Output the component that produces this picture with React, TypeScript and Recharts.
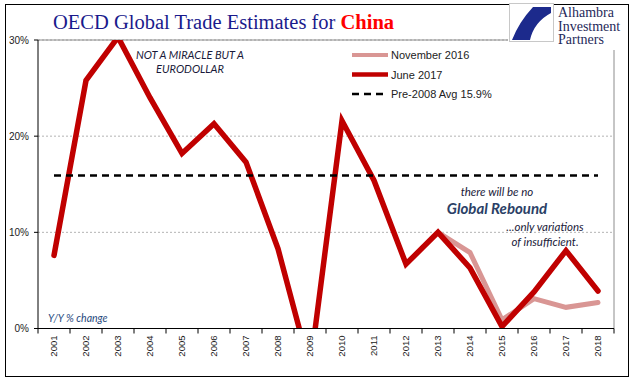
import { CartesianGrid, Legend, Line, LineChart, ReferenceLine, XAxis, YAxis } from "recharts";

const years = ["2001", "2002", "2003", "2004", "2005", "2006", "2007", "2008", "2009", "2010", "2011", "2012", "2013", "2014", "2015", "2016", "2017", "2018"];
const june2017 = [7.6, 25.8, 30.3, 24.0, 18.2, 21.3, 17.3, 8.3, -4.2, 21.6, 15.4, 6.7, 10.0, 6.3, 0.2, 3.8, 8.1, 3.9];
const nov2016 = [null, null, null, null, null, null, null, null, null, null, null, null, 10.0, 7.9, 0.9, 3.1, 2.2, 2.7];
const pre2008Avg = 15.9;
const yTicks = [0, 10, 20, 30];

const data = years.map((year, i) => ({ year, nov: nov2016[i], june: june2017[i], avg: pre2008Avg }));

const legendOrder = ["nov", "june", "avg"];
const legendStyle: Record<string, { width: number; dash?: string }> = {
  nov: { width: 4 },
  june: { width: 4.5 },
  avg: { width: 2.5, dash: "7 5" },
};

function LegendBox({ payload }: any) {
  const items = [...(payload || [])].sort(
    (a: any, b: any) => legendOrder.indexOf(a.dataKey) - legendOrder.indexOf(b.dataKey)
  );
  return (
    <svg width={160} height={60} style={{ display: "block" }}>
      {items.map((item: any, i: number) => {
        const s = legendStyle[item.dataKey] || { width: 3 };
        return (
          <g key={i} transform={`translate(0, ${i * 19.5})`}>
            <line x1={2} x2={38} y1={10} y2={10} stroke={item.color} strokeWidth={s.width} strokeDasharray={s.dash} />
            <text x={41} y={14} fontSize={11} fontFamily="Liberation Sans, Arial" fill="#222">
              {item.value}
            </text>
          </g>
        );
      })}
    </svg>
  );
}

function YearTick({ x, y, payload, index, visibleTicksCount }: any) {
  const half = payload.offset || 16;
  const axisY = y - 7;
  const last = index === (visibleTicksCount ?? years.length) - 1;
  return (
    <g>
      <line x1={x - half} x2={x - half} y1={axisY} y2={axisY + 5} stroke="#000" />
      {last && <line x1={x + half} x2={x + half} y1={axisY} y2={axisY + 5} stroke="#000" />}
      <g transform={`translate(${x}, ${y})`}>
        <text transform="rotate(-90)" textAnchor="end" dy="0.35em" fontSize={9.5} fontFamily="Liberation Sans, Arial" fill="#222">
          {payload.value}
        </text>
      </g>
    </g>
  );
}

export default function App() {
  return (
    <div style={{ position: "absolute", left: 0, top: 0, width: 641, height: 381, background: "#fff" }}>
      <LineChart width={641} height={381} data={data} margin={{ top: 40, right: 27, left: 0, bottom: 0 }}>
        <CartesianGrid vertical={false} stroke="#b4b4b4" strokeDasharray="2 2" />
        <XAxis
          dataKey="year"
          scale="band"
          height={52.5}
          axisLine={{ stroke: "#000" }}
          tickLine={false}
          tickSize={5}
          tickMargin={2}
          interval={0}
          tick={<YearTick />}
        />
        <YAxis
          width={38}
          domain={[0, 30]}
          ticks={yTicks}
          allowDataOverflow
          tickFormatter={(v) => `${v}%`}
          axisLine={{ stroke: "#000" }}
          tickLine={{ stroke: "#000" }}
          tickSize={4}
          tickMargin={5}
          tick={{ fontSize: 10, fill: "#222", fontFamily: "Liberation Sans, Arial" }}
        />
        <ReferenceLine y={30} stroke="#8c8c8c" />
        <ReferenceLine x="2018" position="end" stroke="#8c8c8c" />
        <Legend
          layout="horizontal"
          verticalAlign="middle"
          content={<LegendBox />}
          wrapperStyle={{ position: "absolute", left: 350, top: 45, width: 160 }}
        />
        <Line name="November 2016" dataKey="nov" stroke="#d99694" strokeWidth={5} strokeLinecap="round" dot={false} activeDot={false} isAnimationActive={false} />
        <Line name="June 2017" dataKey="june" stroke="#c00000" strokeWidth={5.5} strokeLinecap="round" dot={false} activeDot={false} isAnimationActive={false} />
        <Line name="Pre-2008 Avg 15.9%" dataKey="avg" stroke="#000" strokeWidth={2.5} strokeDasharray="7 5" dot={false} activeDot={false} isAnimationActive={false} />
      </LineChart>
      <svg width={641} height={381} style={{ position: "absolute", left: 0, top: 0, pointerEvents: "none" }}>
        <rect x={5.5} y={4.5} width={623} height={372} fill="none" stroke="#000" />
        <text x={53} y={29} fontSize={20.5} fontFamily="Liberation Serif, Times New Roman" fill="#1a1a8c">
          OECD Global Trade Estimates for <tspan fill="#ff0000" fontWeight="bold">China</tspan>
        </text>
        <rect x={508} y={5} width={120} height={45} fill="#fff" />
        <rect x={509.5} y={3.5} width={44} height={38} fill="#fff" stroke="#c8c8c8" />
        <path d="M551 7 L533 7 Q519 22 512 40 L530 40 Q534 22 551 13 Z" fill="#1c2a8c" />
        <g fontFamily="Liberation Serif, Times New Roman" fontSize={14} fill="#1f2a5a">
          <text x={558} y={17}>Alhambra</text>
          <text x={558} y={30.5}>Investment</text>
          <text x={558} y={44}>Partners</text>
        </g>
        <g fontFamily="Lato, sans-serif" fontStyle="italic" textAnchor="middle" fill="#1a1a3a">
          <text x={190} y={59} fontSize={11}>NOT A MIRACLE BUT A</text>
          <text x={190} y={73} fontSize={11}>EURODOLLAR</text>
          <text x={497} y={196} fontSize={11.5}>there will be no</text>
          <text x={497} y={214} fontSize={15} fontWeight="bold" fill="#2b3f66">Global Rebound</text>
          <text x={545} y={231} fontSize={11.5}>...only variations</text>
          <text x={545} y={246} fontSize={11.5}>of insufficient.</text>
        </g>
        <text x={48} y={322} fontSize={10.5} fontStyle="italic" fontFamily="Lato, sans-serif" fill="#1f497d">
          Y/Y % change
        </text>
      </svg>
    </div>
  );
}
